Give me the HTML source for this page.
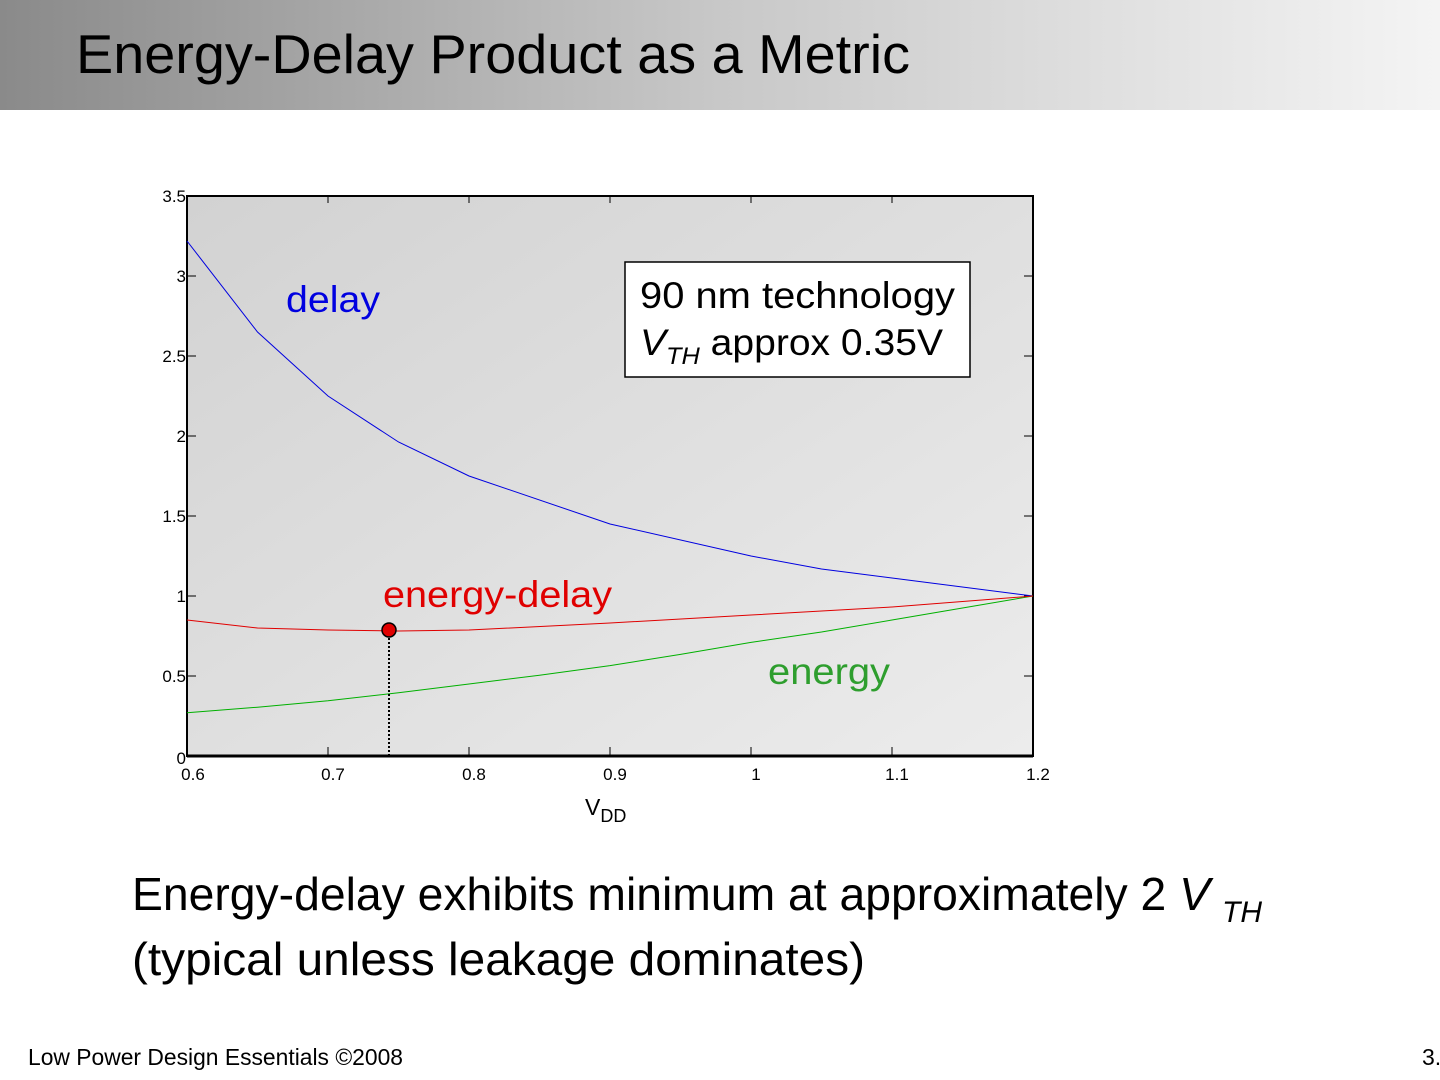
<!DOCTYPE html>
<html><head><style>
body{margin:0;width:1440px;height:1080px;background:#fff;position:relative;overflow:hidden;font-family:"Liberation Sans",sans-serif}
.hdr{position:absolute;left:0;top:0;width:1440px;height:110px;background:linear-gradient(90deg,#8a8a8a 0%,#c8c8c8 50%,#f4f4f4 100%)}
</style></head><body>
<div class="hdr"></div>
<svg width="1440" height="1080" style="position:absolute;left:0;top:0" font-family="Liberation Sans, sans-serif">
<text x="76" y="73" font-size="55" fill="#000" textLength="834" lengthAdjust="spacingAndGlyphs">Energy-Delay Product as a Metric</text>
<defs><linearGradient id="g" x1="0" y1="0" x2="1" y2="1"><stop offset="0" stop-color="#d2d2d2"/><stop offset="1" stop-color="#ececec"/></linearGradient></defs>
<rect x="187" y="196" width="846" height="560" fill="url(#g)" stroke="#000" stroke-width="2"/>
<line x1="187" y1="756" x2="1033" y2="756" stroke="#000" stroke-width="3"/>
<g stroke="#000" stroke-width="1">
<line x1="328" y1="196" x2="328" y2="203"/><line x1="469" y1="196" x2="469" y2="203"/><line x1="610" y1="196" x2="610" y2="203"/><line x1="751" y1="196" x2="751" y2="203"/><line x1="892" y1="196" x2="892" y2="203"/>
<line x1="328" y1="756" x2="328" y2="747"/><line x1="469" y1="756" x2="469" y2="747"/><line x1="610" y1="756" x2="610" y2="747"/><line x1="751" y1="756" x2="751" y2="747"/><line x1="892" y1="756" x2="892" y2="747"/>
<line x1="187" y1="276" x2="196" y2="276"/><line x1="187" y1="356" x2="196" y2="356"/><line x1="187" y1="436" x2="196" y2="436"/><line x1="187" y1="516" x2="196" y2="516"/><line x1="187" y1="596" x2="196" y2="596"/><line x1="187" y1="676" x2="196" y2="676"/>
<line x1="1033" y1="276" x2="1024" y2="276"/><line x1="1033" y1="356" x2="1024" y2="356"/><line x1="1033" y1="436" x2="1024" y2="436"/><line x1="1033" y1="516" x2="1024" y2="516"/><line x1="1033" y1="596" x2="1024" y2="596"/><line x1="1033" y1="676" x2="1024" y2="676"/>
</g>
<g font-size="17" fill="#000" text-anchor="end">
<text x="186" y="202">3.5</text><text x="186" y="282">3</text><text x="186" y="362">2.5</text><text x="186" y="442">2</text><text x="186" y="522">1.5</text><text x="186" y="602">1</text><text x="186" y="682">0.5</text><text x="186" y="764">0</text>
</g>
<g font-size="17" fill="#000" text-anchor="middle">
<text x="193" y="780">0.6</text><text x="333" y="780">0.7</text><text x="474" y="780">0.8</text><text x="615" y="780">0.9</text><text x="756" y="780">1</text><text x="897" y="780">1.1</text><text x="1038" y="780">1.2</text>
</g>
<text x="585" y="815" font-size="23">V<tspan font-size="18" dy="7">DD</tspan></text>
<polyline fill="none" stroke="#0000e0" stroke-width="1" points="187,241 257.5,332 328,396 398.5,442 469,476 610,524 751,556 821.5,569 892,578 1033,596"/>
<polyline fill="none" stroke="#00b000" stroke-width="1" points="187,712.8 257.5,707.2 328,700.8 398.5,692.8 469,684 539.5,675.2 610,665.6 680.5,654.4 751,642.4 821.5,632 892,620 962.5,608 1033,596"/>
<polyline fill="none" stroke="#e00000" stroke-width="1" points="187,620 257.5,628 328,630 398.5,631 469,630 610,623 751,615 892,607 1033,596"/>
<line x1="389" y1="630" x2="389" y2="756" stroke="#000" stroke-width="2" stroke-dasharray="2,2"/>
<circle cx="389" cy="630" r="7" fill="#e00000" stroke="#000" stroke-width="1.5"/>
<text x="286" y="312" font-size="37" fill="#0000e0" textLength="94" lengthAdjust="spacingAndGlyphs">delay</text>
<text x="383" y="607" font-size="37" fill="#e00000" textLength="229" lengthAdjust="spacingAndGlyphs">energy-delay</text>
<text x="768" y="684" font-size="37" fill="#2e9e2e" textLength="122" lengthAdjust="spacingAndGlyphs">energy</text>
<rect x="625" y="262" width="345" height="115" fill="#fff" stroke="#000" stroke-width="1.5"/>
<text x="640" y="308" font-size="37" fill="#000" textLength="315" lengthAdjust="spacingAndGlyphs">90 nm technology</text>
<text x="640" y="355" font-size="37" fill="#000" textLength="303" lengthAdjust="spacingAndGlyphs"><tspan font-style="italic">V</tspan><tspan font-style="italic" font-size="24" dy="9">TH</tspan><tspan dy="-9"> approx 0.35V</tspan></text>
<text x="132" y="910" font-size="46" fill="#000" textLength="1078" lengthAdjust="spacingAndGlyphs">Energy-delay exhibits minimum at approximately 2 <tspan font-style="italic">V</tspan></text>
<text x="1222" y="922" font-size="30" font-style="italic" fill="#000">TH</text>
<text x="132" y="975" font-size="46" fill="#000" textLength="733" lengthAdjust="spacingAndGlyphs">(typical unless leakage dominates)</text>
<text x="28" y="1065" font-size="23" fill="#000" textLength="375" lengthAdjust="spacingAndGlyphs">Low Power Design Essentials ©2008</text>
<text x="1422" y="1065" font-size="23" fill="#000">3.</text>
</svg>
</body></html>
